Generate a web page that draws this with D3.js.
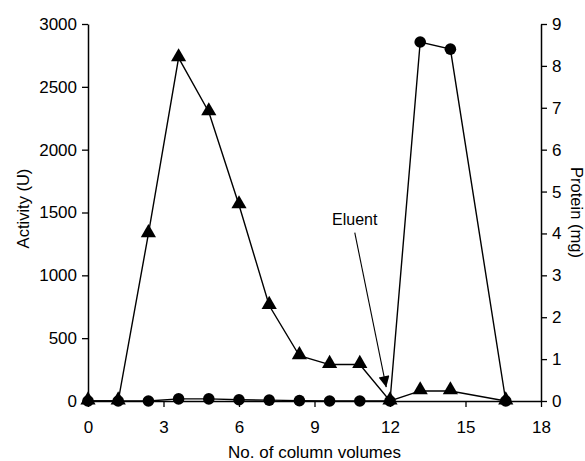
<!DOCTYPE html>
<html>
<head>
<meta charset="utf-8">
<script src="https://cdn.jsdelivr.net/npm/d3@7"></script>
<style>
  body { margin: 0; background: #fff; }
  svg { display: block; font-family: "Liberation Sans", Arial, Helvetica, sans-serif; }
</style>
</head>
<body>
<svg id="chart" width="585" height="461"></svg>
<script>
// ---- data ----
const columnVolumes = [0, 1.2, 2.4, 3.6, 4.8, 6.0, 7.2, 8.4, 9.6, 10.8, 12.0, 13.2, 14.4, 16.6];
const activityU     = [0, 0, 1330, 2730, 2300, 1560, 760, 360, 290, 290, 0, 80, 80, 0];
const proteinMg     = [0, 0, 0.0, 0.05, 0.05, 0.03, 0.02, 0.01, 0.0, 0.0, 0, 8.57, 8.4, 0];
const xTicks = [0, 3, 6, 9, 12, 15, 18];
const activityTicks = [0, 500, 1000, 1500, 2000, 2500, 3000];
const proteinTicks = [0, 1, 2, 3, 4, 5, 6, 7, 8, 9];
const annotationText = "Eluent";
const annotationTarget = { x: 11.85, activity: 110 };
const annotationSource = { x: 10.6, activity: 1340 };

// ---- layout ----
const W = 585, H = 461;
const m = { top: 24, right: 44, bottom: 60, left: 88 };
const svg = d3.select("#chart");

const x = d3.scaleLinear().domain([0, 18]).range([m.left, W - m.right]);
const yA = d3.scaleLinear().domain([0, 3000]).range([H - m.bottom, m.top]);
const yP = d3.scaleLinear().domain([0, 9]).range([H - m.bottom, m.top]);

const fs = 16.5, tfs = 17;
const fmt = d3.format("d");

// axes
const gx = svg.append("g").attr("transform", `translate(0,${H - m.bottom})`)
  .call(d3.axisBottom(x).tickValues(xTicks).tickFormat(fmt).tickSize(6).tickPadding(14).tickSizeOuter(0));
const gy = svg.append("g").attr("transform", `translate(${m.left},0)`)
  .call(d3.axisLeft(yA).tickValues(activityTicks).tickFormat(fmt).tickSize(6).tickPadding(5).tickSizeOuter(0));
const gy2 = svg.append("g").attr("transform", `translate(${W - m.right},0)`)
  .call(d3.axisRight(yP).tickValues(proteinTicks).tickFormat(fmt).tickSize(6).tickPadding(5).tickSizeOuter(0));

[gx, gy, gy2].forEach(g => {
  g.selectAll("path.domain").attr("stroke", "#000").attr("stroke-width", 1.5);
  g.selectAll(".tick line").attr("stroke", "#000").attr("stroke-width", 1.3);
  g.selectAll(".tick text").attr("fill", "#000").style("font-size", tfs + "px")
    .style("font-family", '"Liberation Sans", Arial, sans-serif');
});

// axis titles
svg.append("text").attr("x", (m.left + W - m.right) / 2).attr("y", 458)
  .attr("text-anchor", "middle").style("font-size", "17px").text("No. of column volumes");
svg.append("text").attr("transform", `translate(29,${(m.top + H - m.bottom) / 2 - 4}) rotate(-90)`)
  .attr("text-anchor", "middle").style("font-size", fs + "px").text("Activity (U)");
svg.append("text").attr("transform", `translate(571,${(m.top + H - m.bottom) / 2}) rotate(90)`)
  .attr("text-anchor", "middle").style("font-size", fs + "px").text("Protein (mg)");

// series
const actData = columnVolumes.map((v, i) => ({ x: v, y: activityU[i] }));
const protData = columnVolumes.map((v, i) => ({ x: v, y: proteinMg[i] }));

svg.append("path").datum(protData)
  .attr("fill", "none").attr("stroke", "#000").attr("stroke-width", 1.4)
  .attr("d", d3.line().x(d => x(d.x)).y(d => yP(d.y)));
svg.append("path").datum(actData)
  .attr("fill", "none").attr("stroke", "#000").attr("stroke-width", 1.4)
  .attr("d", d3.line().x(d => x(d.x)).y(d => yA(d.y)));

svg.selectAll("circle.prot").data(protData).join("circle")
  .attr("class", "prot").attr("cx", d => x(d.x)).attr("cy", d => yP(d.y))
  .attr("r", 5.8).attr("fill", "#000");

const tri = d3.symbol().type(d3.symbolTriangle).size(100);
svg.selectAll("path.act").data(actData).join("path")
  .attr("class", "act")
  .attr("transform", d => `translate(${x(d.x)},${yA(d.y) - 1})`)
  .attr("d", tri).attr("fill", "#000");

// annotation
svg.append("defs").append("marker")
  .attr("id", "arrow").attr("viewBox", "0 0 10 10").attr("refX", 10).attr("refY", 5)
  .attr("markerWidth", 13).attr("markerHeight", 11).attr("markerUnits", "userSpaceOnUse")
  .attr("orient", "auto")
  .append("path").attr("d", "M0,0 L10,5 L0,10 Z").attr("fill", "#000");

svg.append("line")
  .attr("x1", x(annotationSource.x)).attr("y1", yA(annotationSource.activity))
  .attr("x2", x(annotationTarget.x)).attr("y2", yA(annotationTarget.activity))
  .attr("stroke", "#000").attr("stroke-width", 1.1).attr("marker-end", "url(#arrow)");

svg.append("text").attr("x", 332).attr("y", 225)
  .style("font-size", "16px").text(annotationText);
</script>
</body>
</html>
